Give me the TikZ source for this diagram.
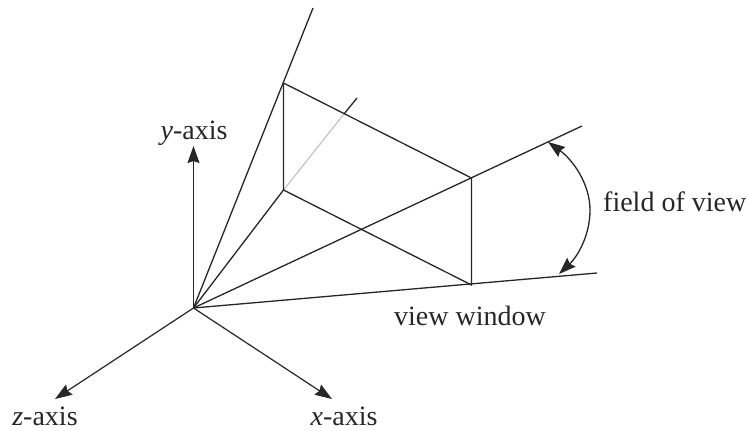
\documentclass[tikz,border=0pt]{standalone}
\usepackage{fontspec}
\setmainfont{Liberation Serif}
\usetikzlibrary{arrows.meta, positioning, calc}

\begin{document}
\begin{tikzpicture}[
    x=1pt, y=-1pt,
    label/.style={font=\fontsize{28}{30}\selectfont, text=black!85, inner sep=0pt},
    ray/.style={line width=1.3pt, black!85},
    hidden/.style={line width=1.3pt, black!22},
    axis/.style={-{Stealth[length=17pt, width=12pt, inset=2pt]}, line width=1.2pt, black!85},
    sweep/.style={{Stealth[length=17pt, width=12pt, inset=2pt]}-{Stealth[length=17pt, width=12pt, inset=2pt]}, line width=1.3pt, black!85},
]
    \useasboundingbox (0,0) rectangle (748,431);

    %==================== POINTS ====================
    \coordinate (org) at (193.5,308);
    \coordinate (ytip) at (193.5,146);
    \coordinate (ztip) at (55,399);
    \coordinate (xtip) at (332,399);
    \coordinate (wintl) at (283.5,83);
    \coordinate (wintr) at (471.5,178);
    \coordinate (winbr) at (471.5,285);
    \coordinate (winbl) at (283.5,190);
    \coordinate (cross) at (344,114);
    \coordinate (rayA) at (313,8);
    \coordinate (rayB) at (357,98);
    \coordinate (rayC) at (582,126);
    \coordinate (rayD) at (597,273);
    \coordinate (fovtop) at (548,142);
    \coordinate (fovmid) at (590,210);
    \coordinate (fovbot) at (559,274);

    %==================== AXES ====================
    \draw[axis] (org) -- (ytip);
    \draw[axis] (org) -- (ztip);
    \draw[axis] (org) -- (xtip);

    %==================== VIEW RAYS ====================
    \draw[ray] (org) -- (rayA);
    \draw[ray] (org) -- (winbl);
    \draw[hidden] (winbl) -- (cross);
    \draw[ray] (cross) -- (rayB);
    \draw[ray] (org) -- (rayC);
    \draw[ray] (org) -- (rayD);

    %==================== VIEW WINDOW ====================
    \draw[ray] (wintl) -- (wintr) -- (winbr) -- (winbl) -- cycle;

    %==================== FIELD OF VIEW ====================
    \draw[sweep] (fovtop) .. controls (573,160) and (590,184) .. (fovmid)
        .. controls (590,235) and (578,256) .. (fovbot);

    %==================== LABELS ====================
    \node[label, anchor=base] (ylab) at (194,139) {\textit{y}-axis};
    \node[label, anchor=base] (zlab) at (45,425) {\textit{z}-axis};
    \node[label, anchor=base] (xlab) at (344,425) {\textit{x}-axis};
    \node[label, anchor=base west] (fovlab) at (603,211) {field of view};
    \node[label, anchor=base] (winlab) at (470,325) {view window};
\end{tikzpicture}
\end{document}
